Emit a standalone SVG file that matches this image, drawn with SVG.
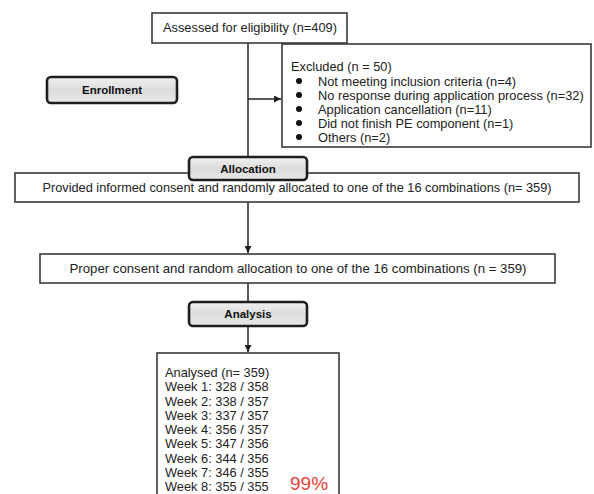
<svg xmlns="http://www.w3.org/2000/svg" width="594" height="494" viewBox="0 0 594 494">
  <defs>
    <linearGradient id="stageFill" x1="0" y1="0" x2="0" y2="1">
      <stop offset="0" stop-color="#f2f2f2"/>
      <stop offset="0.5" stop-color="#dcdcdc"/>
      <stop offset="1" stop-color="#e8e8e8"/>
    </linearGradient>
    <marker id="arrow" viewBox="0 0 10 10" refX="10" refY="5" markerWidth="7" markerHeight="7" markerUnits="userSpaceOnUse" orient="auto">
      <path d="M0,0 L10,5 L0,10 z" fill="#222"/>
    </marker>
  </defs>
  <style>
    .box { fill: #ffffff; stroke: #3a3a3a; stroke-width: 1.6; }
    .stage { fill: url(#stageFill); stroke: #1e1e1e; stroke-width: 2.6; }
    .txt { font-family: "Liberation Sans", Arial, sans-serif; font-size: 12.8px; fill: #222; }
    .stagetxt { font-family: "Liberation Sans", Arial, sans-serif; font-size: 11.5px; font-weight: bold; fill: #111; text-anchor: middle; }
    .mid { text-anchor: middle; }
    .wire { stroke: #222; stroke-width: 1.5; fill: none; }
    .dot { fill: #111; }
    .pct { font-family: "Liberation Sans", Arial, sans-serif; font-size: 19px; fill: #e8413c; }
  </style>
  <rect width="594" height="494" fill="#ffffff"/>

  <!-- connectors -->
  <g id="connectors">
    <line class="wire" x1="248" y1="43" x2="248" y2="158"/>
    <line class="wire" x1="248" y1="99" x2="281" y2="99" marker-end="url(#arrow)"/>
    <line class="wire" x1="248" y1="202" x2="248" y2="253" marker-end="url(#arrow)"/>
    <line class="wire" x1="248" y1="283" x2="248" y2="302"/>
    <line class="wire" x1="248" y1="326" x2="248" y2="352" marker-end="url(#arrow)"/>
  </g>

  <g id="assessed">
    <rect class="box" x="152" y="13" width="195" height="30"/>
    <text class="txt mid" x="250" y="32">Assessed for eligibility (n=409)</text>
  </g>

  <g id="excluded">
    <rect class="box" x="282" y="44" width="309" height="103"/>
    <text class="txt" x="291" y="71">Excluded (n = 50)</text>
    <circle class="dot" cx="299" cy="81" r="3"/>
    <circle class="dot" cx="299" cy="95" r="3"/>
    <circle class="dot" cx="299" cy="109" r="3"/>
    <circle class="dot" cx="299" cy="123" r="3"/>
    <circle class="dot" cx="299" cy="137" r="3"/>
    <text class="txt" x="318" y="85.5">Not meeting inclusion criteria (n=4)</text>
    <text class="txt" x="318" y="99.5">No response during application process (n=32)</text>
    <text class="txt" x="318" y="113.5">Application cancellation (n=11)</text>
    <text class="txt" x="318" y="127.5">Did not finish PE component (n=1)</text>
    <text class="txt" x="318" y="141.5">Others (n=2)</text>
  </g>

  <g id="enrollment">
    <rect class="stage" x="47" y="77" width="130" height="26" rx="4"/>
    <text class="stagetxt" x="112" y="94">Enrollment</text>
  </g>

  <g id="allocated">
    <rect class="box" x="15" y="173" width="564" height="29"/>
    <text class="txt mid" x="297" y="192" textLength="509" lengthAdjust="spacingAndGlyphs">Provided informed consent and randomly allocated to one of the 16 combinations (n= 359)</text>
  </g>

  <g id="allocation">
    <rect class="stage" x="189" y="157" width="118" height="23" rx="4"/>
    <text class="stagetxt" x="248" y="172.5">Allocation</text>
  </g>

  <g id="proper">
    <rect class="box" x="40" y="254" width="515" height="29"/>
    <text class="txt mid" x="298" y="273" textLength="457" lengthAdjust="spacingAndGlyphs">Proper consent and random allocation to one of the 16 combinations (n = 359)</text>
  </g>

  <g id="analysis">
    <rect class="stage" x="189" y="302" width="118" height="24" rx="4"/>
    <text class="stagetxt" x="248" y="318">Analysis</text>
  </g>

  <g id="analysed">
    <rect class="box" x="157" y="353" width="182" height="150"/>
    <text class="txt" x="165" y="377">Analysed (n= 359)</text>
    <text class="txt" x="165" y="391.25">Week 1: 328 / 358</text>
    <text class="txt" x="165" y="405.5">Week 2: 338 / 357</text>
    <text class="txt" x="165" y="419.75">Week 3: 337 / 357</text>
    <text class="txt" x="165" y="434">Week 4: 356 / 357</text>
    <text class="txt" x="165" y="448.25">Week 5: 347 / 356</text>
    <text class="txt" x="165" y="462.5">Week 6: 344 / 356</text>
    <text class="txt" x="165" y="476.75">Week 7: 346 / 355</text>
    <text class="txt" x="165" y="491">Week 8: 355 / 355</text>
    <text class="pct" x="290" y="490">99%</text>
  </g>
</svg>
